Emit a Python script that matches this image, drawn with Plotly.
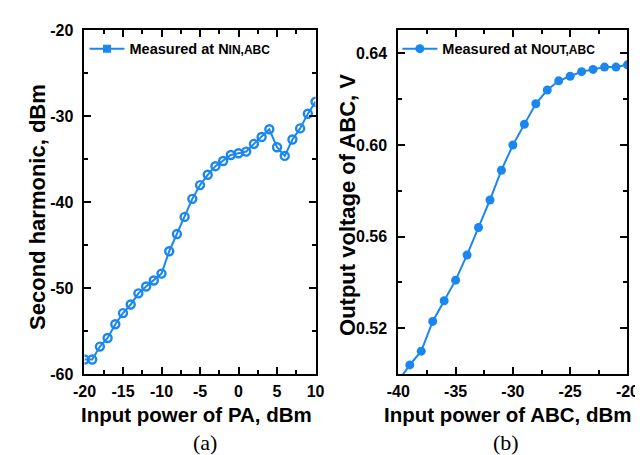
import plotly.graph_objects as go

# ---- data ----
pa_input_dbm = list(range(-20, 11))
second_harmonic_dbm = [-58.3, -58.3, -56.8, -55.8, -54.2, -52.9, -51.9, -50.6, -49.8, -49.1,
                       -48.3, -45.7, -43.7, -41.7, -39.6, -38.0, -36.8, -35.8, -35.2, -34.5,
                       -34.3, -34.1, -33.2, -32.4, -31.5, -33.6, -34.6, -32.7, -31.4, -29.7, -28.3]

abc_input_dbm = list(range(-40, -19))
abc_output_v = [0.497, 0.504, 0.510, 0.523, 0.532, 0.541, 0.552, 0.564, 0.576, 0.589,
                0.600, 0.609, 0.618, 0.624, 0.628, 0.630, 0.632, 0.633, 0.634, 0.634, 0.635]

a_xtick_vals = [-20, -15, -10, -5, 0, 5, 10]
a_xtick_text = ["-20", "-15", "-10", "-5", "0", "5", "10"]
a_ytick_vals = [-60, -50, -40, -30, -20]
a_ytick_text = ["-60", "-50", "-40", "-30", "-20"]
b_xtick_vals = [-40, -35, -30, -25, -20]
b_xtick_text = ["-40", "-35", "-30", "-25", "-20"]
b_ytick_vals = [0.52, 0.56, 0.60, 0.64]
b_ytick_text = ["0.52", "0.56", "0.60", "0.64"]

BLUE = "#1a87f0"
W, H = 643, 455
SANS = "Liberation Sans, Arial, sans-serif"
SERIF = "Liberation Serif, Times New Roman, serif"


def px_x(v):
    return v / W


def px_y(v):
    return 1 - v / H


fig = go.Figure()

# panel (a)
fig.add_trace(go.Scatter(
    x=pa_input_dbm, y=second_harmonic_dbm, mode="lines+markers",
    line=dict(color=BLUE, width=2),
    marker=dict(symbol="circle-open", size=8, color=BLUE, line=dict(width=2.4, color=BLUE)),
    showlegend=False, xaxis="x", yaxis="y"))
fig.add_trace(go.Scatter(
    x=[None], y=[None], mode="lines+markers",
    name="Measured at N<span style='font-size:12px'>IN,ABC</span>",
    line=dict(color=BLUE, width=2),
    marker=dict(symbol="square", size=8, color=BLUE),
    showlegend=True, legend="legend", xaxis="x", yaxis="y"))

# panel (b)
fig.add_trace(go.Scatter(
    x=abc_input_dbm, y=abc_output_v, mode="lines+markers",
    name="Measured at N<span style='font-size:12px'>OUT,ABC</span>",
    line=dict(color=BLUE, width=2),
    marker=dict(symbol="circle", size=9, color=BLUE),
    showlegend=True, legend="legend2", xaxis="x2", yaxis="y2"))

# invisible traces for mirrored (top/right) tick axes
fig.add_trace(go.Scatter(x=[None], y=[None], xaxis="x3", yaxis="y3", showlegend=False, hoverinfo="skip"))
fig.add_trace(go.Scatter(x=[None], y=[None], xaxis="x4", yaxis="y4", showlegend=False, hoverinfo="skip"))

ydom = [px_y(372), px_y(15)]
xdom_a = [px_x(67), px_x(307)]
xdom_b = [px_x(393), px_x(631)]
tickfont = dict(family=SANS, size=16, color="black", weight="bold")
tick_common = dict(ticks="inside", ticklen=7, tickwidth=1.5, tickcolor="black",
                   showgrid=False, zeroline=False)
axis_common = dict(showline=True, linecolor="black", linewidth=2, mirror=True,
                   tickfont=tickfont, **tick_common)
mirror_common = dict(showline=False, showticklabels=False, **tick_common)


def minor(d):
    return dict(ticks="inside", ticklen=4, tickwidth=1.5, tickcolor="black", dtick=d, tick0=0)


fig.update_layout(
    width=W, height=H,
    margin=dict(l=0, r=0, t=0, b=0),
    paper_bgcolor="white", plot_bgcolor="white",
    xaxis=dict(domain=xdom_a, range=[-20, 10], anchor="y", ticklabelstandoff=2,
               tickvals=a_xtick_vals, ticktext=a_xtick_text, minor=minor(2.5), **axis_common),
    yaxis=dict(domain=ydom, range=[-60, -20], anchor="x", ticklabelstandoff=6,
               tickvals=a_ytick_vals, ticktext=a_ytick_text, minor=minor(5), **axis_common),
    xaxis2=dict(domain=xdom_b, range=[-40, -20], anchor="y2", ticklabelstandoff=2,
                tickvals=b_xtick_vals, ticktext=b_xtick_text, minor=minor(2.5), **axis_common),
    yaxis2=dict(domain=ydom, range=[0.50, 0.65], anchor="x2", ticklabelstandoff=6,
                tickvals=b_ytick_vals, ticktext=b_ytick_text, minor=minor(0.02), **axis_common),
    xaxis3=dict(overlaying="x", side="top", anchor="y3", range=[-20, 10],
                tickvals=a_xtick_vals, minor=minor(2.5), **mirror_common),
    yaxis3=dict(overlaying="y", side="right", anchor="x3", range=[-60, -20],
                tickvals=a_ytick_vals, minor=minor(5), **mirror_common),
    xaxis4=dict(overlaying="x2", side="top", anchor="y4", range=[-40, -20],
                tickvals=b_xtick_vals, minor=minor(2.5), **mirror_common),
    yaxis4=dict(overlaying="y2", side="right", anchor="x4", range=[0.50, 0.65],
                tickvals=b_ytick_vals, minor=minor(0.02), **mirror_common),
    legend=dict(x=px_x(67), y=px_y(34), xanchor="left", yanchor="middle",
                bgcolor="rgba(0,0,0,0)", font=dict(family=SANS, size=14.5, color="black", weight="bold"),
                itemwidth=35, tracegroupgap=0),
    legend2=dict(x=px_x(392), y=px_y(34), xanchor="left", yanchor="middle",
                 bgcolor="rgba(0,0,0,0)", font=dict(family=SANS, size=14.5, color="black", weight="bold"),
                 itemwidth=35, tracegroupgap=0),
)

title_font = dict(family=SANS, size=20.5, color="black", weight="bold")
ytitle_font = dict(family=SANS, size=22, color="black", weight="bold")
annos = [
    dict(text="Second harmonic, dBm", x=px_x(18), y=px_y(198), textangle=-90, font=ytitle_font),
    dict(text="Output voltage of ABC, V", x=px_x(340), y=px_y(196), textangle=-90, font=ytitle_font),
    dict(text="Input power of PA, dBm", x=px_x(183), y=px_y(414), font=title_font),
    dict(text="Input power of ABC, dBm", x=px_x(507), y=px_y(414), font=title_font),
]
for a in annos:
    fig.add_annotation(xref="paper", yref="paper", showarrow=False,
                       xanchor="center", yanchor="middle", **a)
for txt, xc in [("(a)", 192), ("(b)", 505)]:
    fig.add_annotation(text=txt, xref="paper", yref="paper", x=px_x(xc), y=px_y(443),
                       showarrow=False, xanchor="center", yanchor="middle",
                       font=dict(family=SERIF, size=22, color="black"))

fig.write_html("out.html")
